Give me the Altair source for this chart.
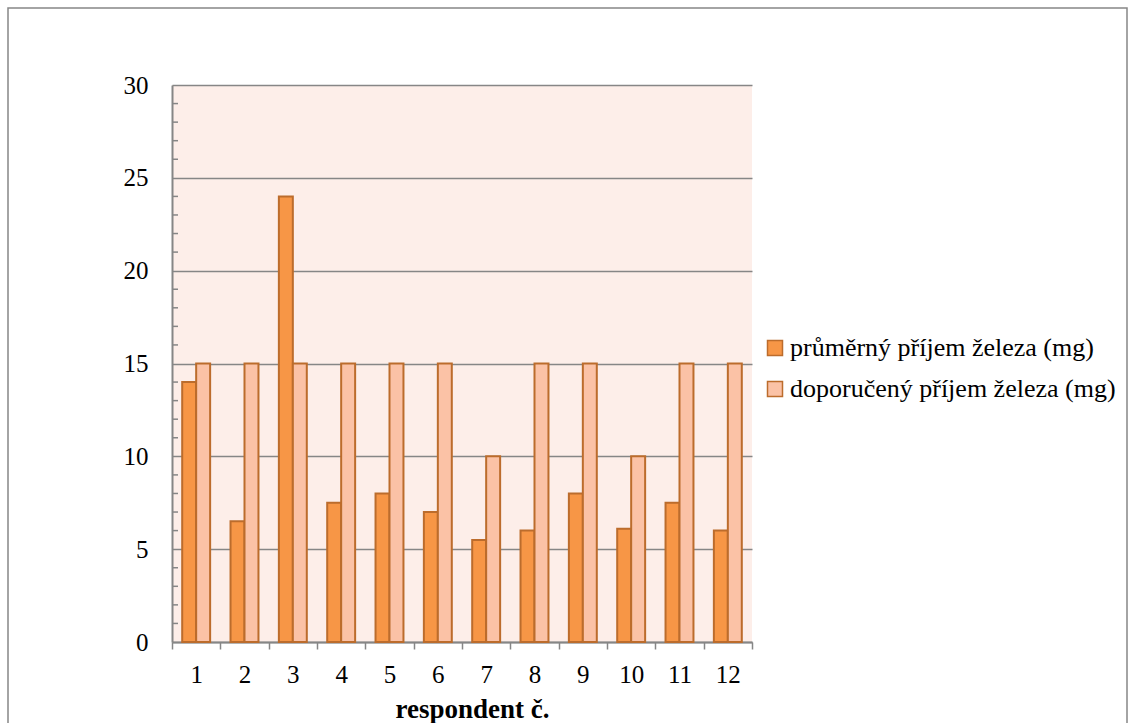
import altair as alt
import pandas as pd

# Respondents and iron intake values (mg)
respondents = [1, 2, 3, 4, 5, 6, 7, 8, 9, 10, 11, 12]
prumerny = [14, 6.5, 24, 7.5, 8, 7, 5.5, 6, 8, 6.1, 7.5, 6]
doporuceny = [15, 15, 15, 15, 15, 15, 10, 15, 15, 10, 15, 15]
series = ["průměrný příjem železa (mg)", "doporučený příjem železa (mg)"]
y_ticks = [0, 5, 10, 15, 20, 25, 30]
minor_ticks = [v for v in range(1, 30) if v % 5 != 0]

rows = []
for r, a, b in zip(respondents, prumerny, doporuceny):
    rows.append({"respondent": r, "serie": series[0], "hodnota": a})
    rows.append({"respondent": r, "serie": series[1], "hodnota": b})
df = pd.DataFrame(rows)

FONT = "Liberation Serif"
GRAY = "#868686"
ORANGE = "#F79646"
PINK = "#FBC2A6"
EDGE = "#BC6C2C"

y_scale = alt.Scale(domain=[0, 30], nice=False, zero=True)
y_axis = alt.Axis(
    title=None, values=y_ticks, ticks=False, tickSize=0,
    labelFont=FONT, labelFontSize=25, labelColor="black", labelPadding=24,
    domainColor=GRAY, domainWidth=2,
    grid=True, gridColor=GRAY, gridWidth=1.5,
)

bars = alt.Chart(df).mark_bar(stroke=EDGE, strokeWidth=2).encode(
    x=alt.X(
        "respondent:O",
        scale=alt.Scale(paddingInner=0, paddingOuter=0),
        axis=alt.Axis(
            title="respondent č.",
            titleFont=FONT, titleFontSize=27, titleFontWeight="bold", titleColor="black",
            titleX=300, titleY=75, titleBaseline="alphabetic", titleAlign="center",
            labelFont=FONT, labelFontSize=25, labelColor="black", labelAngle=0,
            labelPadding=13, tickSize=7, tickColor=GRAY, tickWidth=1.5,
            tickBand="extent", domainColor=GRAY, domainWidth=2, grid=False,
        ),
    ),
    xOffset=alt.XOffset("serie:N", sort=series,
                        scale=alt.Scale(paddingInner=0, paddingOuter=0.73)),
    y=alt.Y("hodnota:Q", scale=y_scale, axis=y_axis),
    fill=alt.Fill(
        "serie:N", sort=series,
        scale=alt.Scale(domain=series, range=[ORANGE, PINK]),
        legend=alt.Legend(
            title=None, orient="none", legendX=590, legendY=250,
            symbolType="square", symbolSize=225, symbolStrokeColor=EDGE,
            symbolStrokeWidth=1.5, symbolOpacity=1,
            labelFont=FONT, labelFontSize=26, labelColor="black",
            labelOffset=2, rowPadding=15, labelLimit=400,
        ),
    ),
)

# small inner tick marks on the value axis
minor = alt.Chart(pd.DataFrame({"hodnota": minor_ticks})).mark_rule(
    color=GRAY, strokeWidth=1.5
).encode(
    y=alt.Y("hodnota:Q", scale=y_scale, axis=y_axis),
    x=alt.value(0),
    x2=alt.value(6),
)

# outer frame of the chart
frame = alt.Chart(alt.Data(values=[{}])).mark_rect(
    fill=None, stroke=GRAY, strokeWidth=1.5
).encode(
    x=alt.value(-164), x2=alt.value(955),
    y=alt.value(-77), y2=alt.value(660),
)

chart = alt.layer(bars, minor, frame).properties(
    width=580, height=557,
    autosize=alt.AutoSizeParams(type="none"),
    padding={"left": 172, "top": 85, "right": 378, "bottom": 81},
    background="white",
).configure(
    font=FONT,
).configure_view(
    fill="#FDEEE9", stroke=None,
)

chart.save("out.html", embed_options={"renderer": "svg", "actions": False})
